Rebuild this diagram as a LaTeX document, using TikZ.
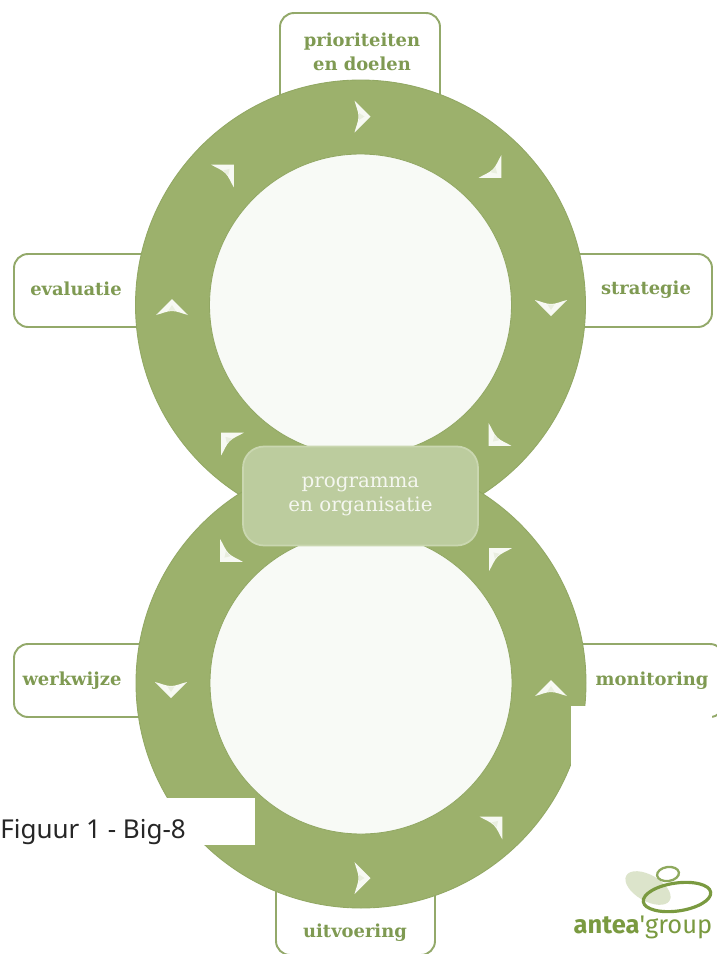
\documentclass[tikz,border=0pt]{standalone}
\usepackage{fontspec}
\newfontfamily\labelfont{DejaVu Serif}
\newfontfamily\captionfont{Noto Sans}
\newfontfamily\logofont{Fira Sans}
\definecolor{ringgreen}{HTML}{9CB16C}
\definecolor{ringedge}{HTML}{92A864}
\definecolor{discwhite}{HTML}{F8FAF6}
\definecolor{boxedge}{HTML}{93A96A}
\definecolor{labelgreen}{HTML}{7F9A52}
\definecolor{centrefill}{HTML}{BCCC9E}
\definecolor{centreedge}{HTML}{CAD7B0}
\definecolor{logogreen}{HTML}{7A9A40}
\tikzset{
  labelbox/.style={draw=boxedge,line width=1.1pt,fill=white,rounded corners=8pt},
  labeltext/.style={text=labelgreen,align=center,inner sep=0pt,
    font=\labelfont\bfseries\fontsize{10.2}{13.6}\selectfont},
  ringdisc/.style={fill=ringgreen,draw=ringedge,line width=0.5pt},
  innerdisc/.style={fill=discwhite,draw=ringedge,line width=0.5pt},
  arrowmark/.style={fill=white!92!ringgreen},
  arrowcore/.style={fill=ringgreen!22!white}
}
\begin{document}
\begin{tikzpicture}[x=0.02cm,y=-0.02cm]
\useasboundingbox (0,0) rectangle (717,954);
\fill[white] (0,0) rectangle (717,954);

% --- the boxes behind the rings
\draw[labelbox] (280,13) rectangle (440,120);
\draw[labelbox] (14,254) rectangle (170,327);
\draw[labelbox] (560,254) rectangle (712,327);
\draw[labelbox] (14,644) rectangle (170,717);
\draw[labelbox] (560,644) rectangle (724,717);
\draw[labelbox] (276,860) rectangle (435,955);

% --- the two rings
\coordinate (topcentre) at (360.5,305);
\coordinate (lowcentre) at (361,683);
\draw[ringdisc] (topcentre) circle [radius=225];
\draw[ringdisc] (lowcentre) circle [radius=225];
\draw[innerdisc] (topcentre) circle [radius=151];
\draw[innerdisc] (lowcentre) circle [radius=151];

% --- arrow marks on the rings: x / y / turn
\foreach \x/\y/\r in {354.5/116.5/0,490/166.5/45,551/300/90,500/434.5/135,
  232.5/444/225,172/315/270,222.5/176/315,
  231.5/550.5/135,171/682/90,354.5/878/0,491/828/315,551/696/270,500.5/559.5/225}{
  \fill[arrowmark,shift={(\x,\y)},rotate=-\r] (0,-16) -- (16,0) -- (0,16)
    .. controls (1.5,10) and (4,5) .. (4,0) .. controls (4,-5) and (1.5,-10) .. (0,-16);
  \fill[arrowcore,shift={(\x,\y)},rotate=-\r] (4.5,-3.5) -- (10,0) -- (4.5,3.5) -- cycle;
}

% --- the middle block
\node[draw=centreedge,line width=1pt,fill=centrefill,rounded corners=12pt,
  minimum width=4.7cm,minimum height=1.98cm,text=white!85!centrefill,align=center,
  font=\labelfont\fontsize{11.3}{13.7}\selectfont] (programma) at (360.5,496)
  {programma\\en organisatie};

% ---- white patches that lie over the drawing
\fill[white] (0,798) rectangle (255,845);
\fill[white] (571,706) rectangle (712,800);

% --- labels
\node[labeltext] (prioriteiten) at (362,52) {prioriteiten\\en doelen};
\node[labeltext] (evaluatie) at (76,289) {evaluatie};
\node[labeltext] (strategie) at (646,290) {strategie};
\node[labeltext] (werkwijze) at (72,681) {werkwijze};
\node[labeltext] (monitoring) at (652,681) {monitoring};
\node[labeltext] (uitvoering) at (355,933) {uitvoering};

% ---- caption
\node[anchor=base west,inner sep=0pt,text=black!85,
  font=\captionfont\fontsize{14.8}{16}\selectfont] (figuur) at (0,838) {Figuur 1 - Big-8};

% --- logo
\fill[ringgreen!35!white,rotate around={-30:(648,888)}] (648,888) ellipse [x radius=25,y radius=13];
\draw[logogreen!85!white,line width=1.3pt,rotate around={8:(668,874)}] (668,874) ellipse [x radius=11,y radius=7];
\draw[logogreen,line width=1.8pt,rotate around={8:(677,897)}] (677,897) ellipse [x radius=34,y radius=14];
\node[anchor=base,inner sep=0pt,text=logogreen,font=\logofont\fontsize{14.5}{16}\selectfont]
  (logo) at (643,933) {\textbf{antea}\textquotesingle group};
\end{tikzpicture}
\end{document}
